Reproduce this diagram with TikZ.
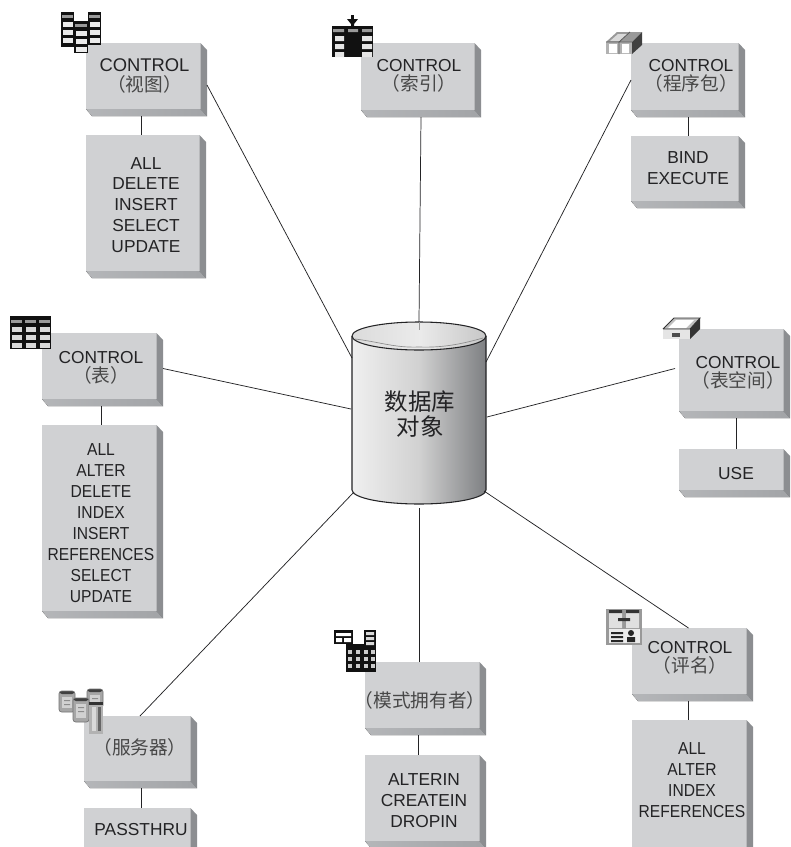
\documentclass[tikz,border=0pt]{standalone}
\usepackage{fontspec}
\setmainfont{Liberation Sans}
\newfontfamily\cjk{Noto Sans CJK SC}
\usetikzlibrary{calc}
\definecolor{face}{HTML}{D0D1D3}
\definecolor{bevR}{HTML}{8C8E91}
\definecolor{bevB}{HTML}{A2A4A7}
\definecolor{ink}{HTML}{232325}
\definecolor{ico}{HTML}{111111}
\definecolor{hdr}{HTML}{9A9A9A}
\newcommand{\cj}[1]{{\color{black!72}\cjk\fontsize{14}{14.3}\selectfont #1}}
\tikzset{
  x=0.75pt,y=-0.75pt,
  holder/.style={rectangle,inner sep=0pt,outer sep=0pt,draw=none},
  lab/.style={text=ink,align=center,inner sep=0pt,font=\fontsize{13}{14.3}\selectfont},
  lst/.style={text=ink,align=center,inner sep=0pt,font=\fontsize{13}{15.7}\selectfont},
  narrowlst/.style={lst,transform shape,xscale=0.9},
  conn/.style={draw=ink,line width=0.55pt},
}
% name x0 y0 x2 y2
\newcommand{\bevbox}[5]{%
  \fill[face] (#2,#3) rectangle (#4-6.5,#5-7);
  \fill[left color=bevB!60!face,right color=bevB] (#2,#5-7) -- (#4-6.5,#5-7) -- (#4,#5) -- (#2+6,#5) -- cycle;
  \fill[bevR] (#4-6.5,#3) -- (#4,#3+7) -- (#4,#5) -- (#4-6.5,#5-7) -- cycle;
  \node[holder,minimum width={(#4-#2)*0.75pt},minimum height={(#5-#3)*0.75pt}] (#1) at ({(#2+#4)/2},{(#3+#5)/2}) {};
}
% table column: x0 y0 x1 y1 and white rows
\newcommand{\tcol}[4]{%
  \fill[ico] (#1,#2) rectangle (#3,#4);
  \fill[hdr] (#1+1,#2+3) rectangle (#3-1,#2+6);
  \foreach \r in {10,18,...,40}{
    \pgfmathparse{(#2+\r+5)<(#4)?1:0}
    \ifnum\pgfmathresult=1
      \fill[white!92!black] (#1+2,#2+\r) rectangle (#3-1,#2+\r+5);
    \fi}
}
% small server cylinder: x y-top y-bottom
\newcommand{\srv}[3]{%
  \fill[black!35,rounded corners=2] (#1,#2) rectangle (#1+16,#3);
  \fill[black!75,rounded corners=1.5] (#1+1,#2) rectangle (#1+15,#2+3);
  \fill[white!82!black] (#1+3,#2+6) rectangle (#1+13,#3-4);
  \fill[black!45] (#1+5,#2+9) rectangle (#1+11,#2+10) (#1+5,#2+13) rectangle (#1+11,#2+14);
  \draw[black!55,line width=0.5pt,rounded corners=2] (#1,#2) rectangle (#1+16,#3);
}
\begin{document}
\begin{tikzpicture}
\useasboundingbox (0,0) rectangle (790,847);
\clip (0,0) rectangle (790,847);
\fill[white] (0,0) rectangle (790,847);

% Boxes
\bevbox{v}{86}{43}{207}{116}
\bevbox{vl}{86}{135}{206}{278}
\bevbox{i}{361}{43}{481}{117}
\bevbox{p}{631}{43}{745}{117}
\bevbox{pl}{631}{136}{745}{208}
\bevbox{t}{42}{333}{163}{406}
\bevbox{tl}{42}{425}{163}{618}
\bevbox{s}{679}{329}{790}{418}
\bevbox{sl}{679}{449}{790}{497}
\bevbox{f}{84}{716}{197}{788}
\bevbox{fl}{84}{808}{197}{856}
\bevbox{m}{365}{662}{486}{735}
\bevbox{ml}{365}{755}{486}{848}
\bevbox{a}{632}{628}{753}{701}
\bevbox{al}{632}{720}{753}{854}

% Database cylinder
\path[left color=black!6,right color=bevR!90!black,middle color=black!18]
  (352,336) -- (352,490) arc[start angle=180,end angle=0,x radius=67,y radius=14] -- (486,336) arc[start angle=0,end angle=180,x radius=67,y radius=14] -- cycle;
\path[left color=black!14,right color=black!22,middle color=black!8]
  (352,336) arc[start angle=180,end angle=-180,x radius=67,y radius=14] -- cycle;
\draw[black!45,line width=0.5pt] (355,339) .. controls (380,342) and (395,348) .. (419,347) .. controls (445,348) and (465,343) .. (483,338);
\draw[ink,line width=0.8pt] (352,336) -- (352,490) arc[start angle=180,end angle=0,x radius=67,y radius=14] -- (486,336);
\draw[ink,line width=0.8pt] (352,336) arc[start angle=180,end angle=-180,x radius=67,y radius=14];
\node[holder,minimum width=100.5pt,minimum height=136.5pt] (db) at (419,413) {};
\node[text=ink,align=center,inner sep=0pt,font=\cjk\fontsize{17.6}{18.8}\selectfont] (dbt) at (420,414) {数据库\\对象};

% Connectors to the database
\draw[conn] ([shift={(0,42)}]v.north east) -- ([shift={(0,-55)}]db.west);
\draw[conn] (i.south) -- (db.north);
\draw[black!40,line width=0.55pt] (db.north) -- ([shift={(0,8)}]db.north);
\draw[conn] ([shift={(0,37)}]p.north west) -- ([shift={(0,-51)}]db.east);
\draw[conn] ([shift={(0,-1)}]t.east) -- ([shift={(-1,-4)}]db.west);
\draw[conn] ([shift={(-4,-5)}]s.west) -- ([shift={(1,4)}]db.east);
\draw[conn] (f.north) ++(-0.5,0) -- ([shift={(2,-12)}]db.south west);
\draw[conn] ([shift={(-6.5,0)}]m.north) -- ([shift={(0,4)}]db.south);
\draw[conn] ([shift={(-4,0)}]a.north) -- ([shift={(-2,-13)}]db.south east);

% Connectors inside groups
\draw[conn] (v.south -| vl.north) ++(-5,0) -- ([shift={(-5,0)}]vl.north);
\draw[conn] ([shift={(0,0)}]p.south) -- (pl.north);
\draw[conn] ([shift={(-1.5,0)}]t.south) -- ([shift={(-1.5,0)}]tl.north);
\draw[conn] ([shift={(1.5,0)}]s.south) -- ([shift={(1.5,0)}]sl.north);
\draw[conn] ([shift={(0.5,0)}]f.south) -- ([shift={(0.5,0)}]fl.north);
\draw[conn] ([shift={(-7.5,0)}]m.south) -- ([shift={(-7.5,0)}]ml.north);
\draw[conn] ([shift={(-4.5,0)}]a.south) -- ([shift={(-4.5,0)}]al.north);

% Labels
\node[lab,font=\fontsize{13.8}{14.3}\selectfont] (vt) at (144.5,76) {CONTROL\\\cj{（视图）}};
\node[lab] (it) at (419,76) {CONTROL\\\cj{（索引）}};
\node[lab] (pt) at (691,76) {CONTROL\\\cj{（程序包）}};
\node[lab] (tt) at (101,368) {CONTROL\\\cj{（表）}};
\node[lab] (st) at (738,373) {CONTROL\\\cj{（表空间）}};
\node[lab] (ft) at (140,747) {\cj{（服务器）}};
\node[lab] (mt) at (420,700) {\cj{（模式拥有者）}};
\node[lab] (at) at (690,658) {CONTROL\\\cj{（评名）}};
\node[lst] (vlt) at (146,205) {ALL\\DELETE\\INSERT\\SELECT\\UPDATE};
\node[lst] (plt) at (688,168) {BIND\\EXECUTE};
\node[narrowlst] (tlt) at (101,523) {ALL\\ALTER\\DELETE\\INDEX\\INSERT\\REFERENCES\\SELECT\\UPDATE};
\node[lst] (slt) at (736,474) {USE};
\node[lst] (flt) at (141,830) {PASSTHRU};
\node[lst] (mlt) at (424,801) {ALTERIN\\CREATEIN\\DROPIN};
\node[narrowlst] (alt) at (692,780) {ALL\\ALTER\\INDEX\\REFERENCES};

% Icon: view
\tcol{61}{12}{74}{47}
\tcol{74}{21}{88}{53}
\tcol{88}{12}{101}{45}

% Icon: index
\fill[ico] (332,26) rectangle (373,57);
\fill[hdr] (333,29) rectangle (344,32) (348,29) rectangle (358,32) (362,29) rectangle (372,32);
\foreach \yy in {36,44,52}{\fill[white!90!black] (335,\yy) rectangle (344,\yy+5) (362,\yy) rectangle (372,\yy+5);}
\fill[ico] (347,19) -- (358,19) -- (354,24) -- (354,26) -- (351,26) -- (351,24) -- cycle;
\fill[ico] (351,15) rectangle (354,20);

% Icon: package
\fill[black!40] (606,42) -- (617,32) -- (642,32) -- (632,42) -- cycle;
\fill[black!15] (610,41) -- (618,34) -- (628,34) -- (620,41) -- cycle;
\fill[black!75] (632,42) -- (642,32) -- (642,45) -- (632,54) -- cycle;
\fill[black!30] (606,42) rectangle (632,54);
\fill[white] (609,44) rectangle (617,53) (622,44) rectangle (629,53);
\draw[black!65,line width=0.6pt] (606,42) -- (632,42) (619,42) -- (619,54) (619,42) -- (630,32);

% Icon: table
\fill[ico] (10,316) rectangle (51,349);
\foreach \xx in {10,24,38}{
  \fill[hdr] (\xx+1,320) rectangle (\xx+12,323);
  \foreach \yy in {327,335,343}{\fill[white!85!black] (\xx+2,\yy) rectangle (\xx+12,\yy+5);}
}

% Icon: tablespace
\fill[black!25] (663,329) -- (674,318) -- (700,318) -- (690,329) -- cycle;
\fill[white] (668,328) -- (676,320) -- (694,320) -- (686,328) -- cycle;
\fill[black!80] (690,329) -- (700,318) -- (700,329) -- (690,339) -- cycle;
\fill[black!10] (663,329) rectangle (690,339);
\fill[black!70] (672,333) rectangle (680,337);
\draw[black!80,line width=0.6pt] (663,329) -- (674,318) -- (700,318) -- (690,329) -- (663,329);

% Icon: server
\srv{59}{691}{712}
\srv{87}{689}{708}
\srv{73}{698}{722}
\fill[black!30] (89,702) rectangle (103,734);
\fill[black!80] (89,702) rectangle (103,705);
\fill[white!85!black] (92,707) rectangle (96,731);
\fill[black!60] (98,707) rectangle (101,731);

% Icon: schema
\fill[ico] (334,630) rectangle (353,644);
\fill[white] (336,633) rectangle (351,636) (336,638) rectangle (342,642) (344,638) rectangle (351,642);
\fill[ico] (364,630) rectangle (376,650);
\fill[white!85!black] (366,632) rectangle (374,635) (366,637) rectangle (374,640) (366,642) rectangle (374,645);
\fill[ico] (346,647) rectangle (376,672);
\foreach \xx in {348,356,364,371}{\foreach \yy in {650,657,664}{\fill[white!80!black] (\xx,\yy) rectangle (\xx+4,\yy+4);}}
\fill[ico] (346,644) rectangle (364,650);

% Icon: alias
\fill[black!40] (606,609) rectangle (642,645);
\fill[black!12] (609,613) rectangle (622,628) (626,613) rectangle (639,628);
\fill[black!80] (609,610) rectangle (622,613) (626,610) rectangle (639,613) (618,618) rectangle (630,621);
\fill[white!92!black] (609,629) rectangle (640,643);
\fill[black!85] (611,632) rectangle (623,634) (611,636) rectangle (623,638) (611,640) rectangle (623,642);
\fill[black!85] (631,633) circle[radius=3] (627,637) rectangle (635,642);
\end{tikzpicture}
\end{document}
